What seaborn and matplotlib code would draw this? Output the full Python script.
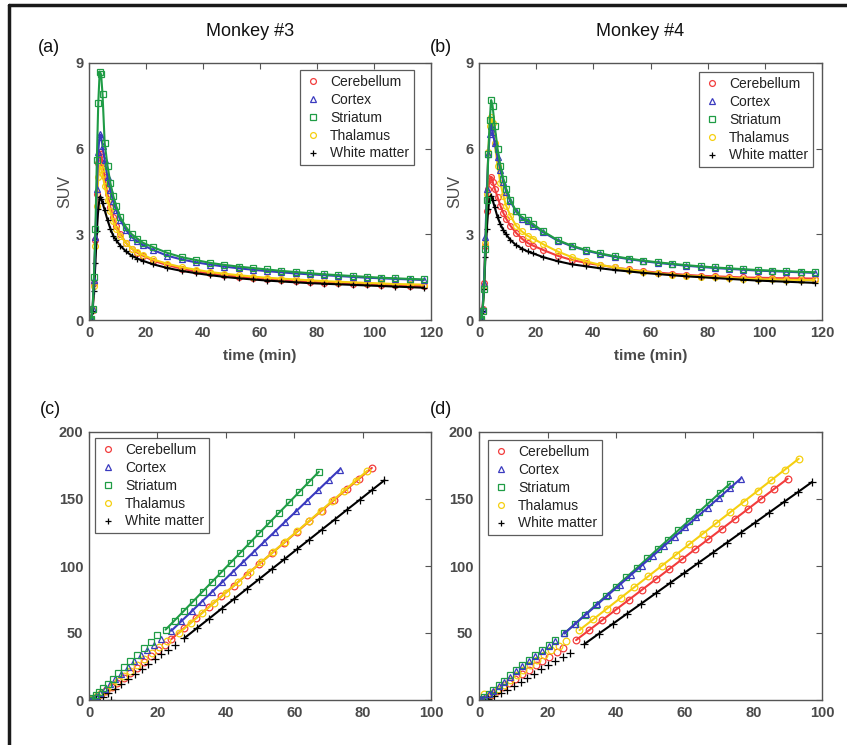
import numpy as np
import pandas as pd
import matplotlib
matplotlib.use("Agg")
import matplotlib.pyplot as plt
import seaborn as sns
from matplotlib.lines import Line2D

# ---------------- data ----------------
regions = ["Cerebellum", "Cortex", "Striatum", "Thalamus", "White matter"]

time_min = [0.25, 0.75, 1.25, 1.75, 2.25, 2.75, 3.25, 3.75, 4.25, 4.75, 5.5, 6.5, 7.5, 8.5, 9.5,
            11, 13, 15, 17, 19, 22.5, 27.5, 32.5, 37.5, 42.5, 47.5, 52.5, 57.5, 62.5, 67.5,
            72.5, 77.5, 82.5, 87.5, 92.5, 97.5, 102.5, 107.5, 112.5, 117.5]

# Monkey #3 SUV
a_cereb = [0, 0.05, 0.35, 1.3, 2.8, 4.4, 5.5, 5.9, 5.8, 5.5, 5.0, 4.4, 3.95, 3.6, 3.3,
           3.0, 2.7, 2.5, 2.35, 2.25, 2.08, 1.92, 1.8, 1.7, 1.63, 1.57, 1.52, 1.47, 1.43, 1.4,
           1.37, 1.34, 1.31, 1.29, 1.27, 1.25, 1.23, 1.22, 1.2, 1.19]
a_cortex = [0, 0.05, 0.4, 1.4, 2.9, 4.6, 5.9, 6.5, 6.4, 6.1, 5.6, 5.0, 4.55, 4.15, 3.85,
            3.5, 3.15, 2.9, 2.75, 2.62, 2.45, 2.25, 2.12, 2.02, 1.94, 1.87, 1.81, 1.76, 1.71, 1.67,
            1.63, 1.6, 1.57, 1.54, 1.51, 1.48, 1.46, 1.44, 1.42, 1.4]
a_striat = [0, 0.05, 0.4, 1.5, 3.2, 5.6, 7.6, 8.7, 8.6, 7.9, 6.2, 5.4, 4.8, 4.35, 4.0,
            3.6, 3.25, 3.0, 2.85, 2.7, 2.55, 2.35, 2.2, 2.1, 2.0, 1.93, 1.87, 1.82, 1.77, 1.72,
            1.68, 1.64, 1.6, 1.57, 1.54, 1.51, 1.48, 1.46, 1.44, 1.42]
a_thal = [0, 0.05, 0.35, 1.2, 2.6, 4.0, 5.0, 5.4, 5.3, 5.1, 4.7, 4.2, 3.8, 3.45, 3.2,
          2.95, 2.7, 2.5, 2.38, 2.28, 2.12, 1.97, 1.85, 1.76, 1.68, 1.62, 1.57, 1.52, 1.48, 1.45,
          1.42, 1.39, 1.36, 1.34, 1.32, 1.3, 1.28, 1.26, 1.25, 1.24]
a_wm = [0, 0.05, 0.3, 1.0, 2.0, 3.1, 3.9, 4.3, 4.25, 4.1, 3.85, 3.5, 3.2, 2.95, 2.8,
        2.6, 2.4, 2.25, 2.15, 2.07, 1.95, 1.82, 1.72, 1.64, 1.57, 1.51, 1.46, 1.42, 1.38, 1.35,
        1.32, 1.29, 1.27, 1.25, 1.23, 1.21, 1.19, 1.17, 1.15, 1.13]

# Monkey #4 SUV
b_cereb = [0, 0.05, 0.4, 1.3, 2.6, 3.8, 4.6, 4.95, 5.0, 4.85, 4.6, 4.3, 4.0, 3.75, 3.55,
           3.3, 3.05, 2.85, 2.7, 2.6, 2.45, 2.25, 2.1, 2.0, 1.92, 1.84, 1.77, 1.71, 1.66, 1.62,
           1.58, 1.55, 1.53, 1.51, 1.49, 1.48, 1.47, 1.46, 1.46, 1.45]
b_cortex = [0, 0.05, 0.4, 1.3, 2.9, 4.6, 5.8, 6.5, 6.8, 6.6, 6.2, 5.7, 5.25, 4.85, 4.5,
            4.15, 3.8, 3.55, 3.45, 3.3, 3.07, 2.78, 2.58, 2.43, 2.31, 2.21, 2.13, 2.06, 2.0, 1.95,
            1.9, 1.86, 1.82, 1.79, 1.76, 1.73, 1.71, 1.69, 1.67, 1.65]
b_striat = [0, 0.05, 0.3, 1.1, 2.5, 4.2, 5.8, 7.0, 7.7, 7.5, 6.8, 6.0, 5.4, 4.95, 4.6,
            4.2, 3.8, 3.6, 3.5, 3.35, 3.1, 2.8, 2.6, 2.45, 2.33, 2.23, 2.15, 2.08, 2.02, 1.97,
            1.92, 1.88, 1.84, 1.81, 1.78, 1.75, 1.73, 1.71, 1.69, 1.67]
b_thal = [0, 0.05, 0.35, 1.2, 2.7, 4.4, 5.9, 6.8, 7.1, 6.9, 6.2, 5.4, 4.8, 4.35, 4.0,
          3.65, 3.3, 3.1, 2.95, 2.85, 2.65, 2.4, 2.2, 2.05, 1.93, 1.84, 1.76, 1.69, 1.63, 1.58,
          1.55, 1.52, 1.49, 1.47, 1.45, 1.43, 1.42, 1.41, 1.4, 1.39]
b_wm = [0, 0.05, 0.3, 1.1, 2.2, 3.2, 3.9, 4.3, 4.35, 4.2, 3.95, 3.6, 3.35, 3.15, 3.0,
        2.8, 2.62, 2.5, 2.4, 2.33, 2.2, 2.06, 1.95, 1.88, 1.81, 1.75, 1.7, 1.65, 1.61, 1.57,
        1.53, 1.5, 1.47, 1.44, 1.41, 1.38, 1.36, 1.34, 1.32, 1.3]

FIT_START = 15  # first point used in the linear fit (Logan plots)

# Logan plot, Monkey #3
c_cereb_x = [0, 0.3, 1.1, 2.3, 3.6, 5.0, 6.6, 8.3, 10.1, 12.0, 14.0, 16.0, 18.1, 20.2, 22.2,
             24.1, 27.8, 31.4, 35.1, 38.7, 42.4, 46.1, 49.7, 53.4, 57.0, 60.7, 64.4, 68.0, 71.7, 75.3, 79.0, 82.7]
c_cereb_y = [0, 0.2, 0.9, 2.5, 4.5, 6.8, 9.6, 12.7, 16.2, 19.9, 24.0, 28.2, 32.6, 37.0, 41.4,
             45.5, 53.6, 61.4, 69.5, 77.3, 85.4, 93.5, 101.3, 109.4, 117.2, 125.3, 133.4, 141.2, 149.3, 157.1, 165.2, 173.2]
c_cortex_x = [0, 0.3, 1.0, 2.1, 3.3, 4.6, 6.1, 7.7, 9.5, 11.4, 13.3, 15.2, 17.1, 19.0, 21.0,
              24.1, 27.0, 30.0, 33.0, 36.0, 39.0, 42.0, 45.0, 48.1, 51.2, 54.3, 57.4, 60.5, 63.7, 66.9, 70.1, 73.3]
c_cortex_y = [0, 0.2, 1.1, 3.1, 5.5, 8.4, 11.8, 15.6, 19.7, 24.3, 28.9, 33.3, 37.4, 41.4, 45.3,
              51.7, 58.8, 66.1, 73.5, 80.8, 88.1, 95.5, 102.8, 110.4, 118.0, 125.6, 133.2, 140.7, 148.6, 156.4, 164.2, 172.0]
c_striat_x = [0, 0.3, 1.0, 2.0, 3.0, 4.2, 5.5, 7.0, 8.6, 10.3, 12.1, 14.0, 16.0, 18.0, 20.0,
              22.4, 25.0, 27.7, 30.4, 33.2, 35.9, 38.6, 41.4, 44.2, 47.0, 49.8, 52.7, 55.6, 58.5, 61.4, 64.3, 67.2]
c_striat_y = [0, 0.2, 1.2, 3.5, 5.8, 8.8, 12.2, 16.0, 20.0, 24.5, 29.0, 33.5, 38.5, 43.5, 48.2,
              52.5, 59.3, 66.4, 73.5, 80.9, 88.0, 95.1, 102.5, 109.8, 117.2, 124.6, 132.2, 139.8, 147.4, 155.1, 162.7, 170.3]
c_thal_x = [0, 0.3, 1.1, 2.3, 3.6, 5.1, 6.7, 8.4, 10.2, 12.1, 14.1, 16.2, 18.3, 20.5, 22.7,
            26.2, 29.7, 33.1, 36.6, 40.0, 43.5, 47.0, 50.4, 53.9, 57.3, 60.8, 64.2, 67.7, 71.1, 74.6, 78.0, 81.4]
c_thal_y = [0, 0.2, 1.0, 2.8, 5.0, 7.7, 10.8, 14.3, 18.0, 22.0, 26.3, 30.8, 35.2, 39.8, 44.0,
            49.7, 57.4, 64.9, 72.6, 80.1, 87.8, 95.5, 102.9, 110.6, 118.1, 125.8, 133.3, 141.0, 148.5, 156.2, 163.7, 171.1]
c_wm_x = [0, 6.3, 2.0, 4.0, 5.5, 7.5, 9.5, 11.5, 13.5, 15.4, 17.3, 19.2, 21.1, 23.0, 25.0,
          27.8, 31.5, 35.1, 38.8, 42.5, 46.1, 49.8, 53.5, 57.1, 60.8, 64.4, 68.1, 71.8, 75.4, 79.1, 82.7, 86.4]
c_wm_y = [0, 0.0, 0.5, 2.5, 5.0, 8.5, 12.0, 15.8, 19.6, 23.3, 27.0, 30.6, 34.0, 37.5, 41.0,
          46.0, 53.5, 60.7, 68.2, 75.6, 82.9, 90.3, 97.8, 105.0, 112.5, 119.7, 127.2, 134.6, 141.9, 149.3, 156.6, 164.0]

# Logan plot, Monkey #4
d_cereb_x = [0, 0.6, 2.0, 3.6, 5.3, 7.0, 8.8, 10.6, 12.5, 14.5, 16.5, 18.5, 20.5, 22.6, 24.6,
             28.3, 32.2, 36.0, 39.9, 43.7, 47.6, 51.5, 55.3, 59.2, 63.0, 66.9, 70.7, 74.6, 78.4, 82.3, 86.1, 90.0]
d_cereb_y = [0, 0.3, 1.5, 3.8, 6.5, 9.5, 12.7, 15.9, 19.2, 22.6, 26.0, 29.2, 32.3, 35.5, 38.6,
             44.7, 52.3, 59.7, 67.4, 74.8, 82.4, 90.0, 97.4, 105.0, 112.5, 120.1, 127.5, 135.1, 142.5, 150.2, 157.6, 165.2]
d_cortex_x = [0, 0.5, 1.5, 2.8, 4.2, 5.7, 7.3, 9.0, 10.8, 12.6, 14.5, 16.4, 18.3, 20.3, 22.2,
              24.9, 28.1, 31.3, 34.5, 37.7, 41.0, 44.2, 47.4, 50.6, 53.8, 57.0, 60.2, 63.4, 66.7, 69.9, 73.1, 76.3]
d_cortex_y = [0, 0.4, 1.8, 4.2, 7.0, 10.3, 13.8, 17.5, 21.3, 25.2, 29.0, 32.7, 36.5, 40.2, 43.8,
              49.7, 56.9, 64.1, 71.3, 78.5, 85.9, 93.1, 100.3, 107.4, 114.6, 121.8, 129.0, 136.2, 143.6, 150.8, 158.0, 165.2]
d_striat_x = [0, 0.5, 1.5, 2.8, 4.2, 5.7, 7.3, 9.0, 10.8, 12.6, 14.5, 16.4, 18.3, 20.3, 22.2,
              24.9, 27.9, 30.9, 34.0, 37.0, 40.0, 43.0, 46.0, 49.1, 52.1, 55.1, 58.1, 61.1, 64.1, 67.2, 70.2, 73.2]
d_striat_y = [0, 0.5, 2.0, 4.5, 7.5, 11.0, 14.5, 18.3, 22.2, 26.3, 30.0, 33.8, 37.5, 41.2, 44.7,
              49.7, 56.6, 63.6, 70.8, 77.7, 84.7, 91.6, 98.5, 105.7, 112.7, 119.6, 126.6, 133.5, 140.4, 147.6, 154.6, 161.5]
d_thal_x = [0, 1.5, 2.5, 4.0, 5.6, 7.3, 9.1, 11.0, 12.9, 14.9, 16.9, 18.9, 21.0, 23.2, 25.4,
            29.3, 33.3, 37.3, 41.3, 45.3, 49.3, 53.3, 57.3, 61.3, 65.2, 69.2, 73.2, 77.2, 81.2, 85.2, 89.2, 93.2]
d_thal_y = [0, 4.3, 2.5, 5.0, 8.0, 11.4, 15.0, 18.7, 22.5, 26.4, 30.0, 33.6, 37.0, 40.5, 44.2,
            52.2, 60.2, 68.2, 76.2, 84.2, 92.2, 100.2, 108.2, 116.2, 124.0, 132.0, 140.0, 148.0, 156.0, 164.0, 172.0, 180.0]
d_wm_x = [0, 1.0, 2.6, 4.4, 6.3, 8.2, 10.1, 12.1, 14.1, 16.1, 18.1, 20.2, 22.3, 24.4, 26.6,
          30.7, 34.9, 39.0, 43.2, 47.3, 51.5, 55.6, 59.8, 63.9, 68.1, 72.2, 76.3, 80.5, 84.6, 88.8, 92.9, 97.1]
d_wm_y = [0, 0.2, 1.0, 2.8, 5.1, 7.8, 10.6, 13.6, 16.6, 19.7, 22.8, 25.9, 29.0, 32.0, 35.2,
          41.7, 49.4, 56.8, 64.5, 71.9, 79.6, 87.1, 94.7, 102.2, 109.8, 117.3, 124.8, 132.4, 139.9, 147.6, 155.0, 162.7]

tac_xticks = [0, 20, 40, 60, 80, 100, 120]
tac_yticks = [0, 3, 6, 9]
logan_xticks = [0, 20, 40, 60, 80, 100]
logan_yticks = [0, 50, 100, 150, 200]

# ---------------- style ----------------
sns.set_theme(style="white")
plt.rcParams["font.family"] = ["Liberation Sans", "DejaVu Sans"]

colors = {"Cerebellum": "#f23c3c", "Cortex": "#3a3abf", "Striatum": "#1f9c45",
          "Thalamus": "#f5cf10", "White matter": "#000000"}
markers = {"Cerebellum": "o", "Cortex": "^", "Striatum": "s", "Thalamus": "o", "White matter": "+"}
msize = {"Cerebellum": 4.2, "Cortex": 4.2, "Striatum": 3.8, "Thalamus": 4.2, "White matter": 5.0}
AX_COLOR = "#555555"
LABEL_COLOR = "#4a4a4a"

W, H = 847, 745
fig = plt.figure(figsize=(W / 100, H / 100), dpi=100)


def add_axes(l, t, r, b):
    return fig.add_axes([l / W, 1 - b / H, (r - l) / W, (b - t) / H])


ax_a = add_axes(89, 63, 431, 320)
ax_b = add_axes(479, 63, 822, 320)
ax_c = add_axes(89, 432, 431, 700)
ax_d = add_axes(479, 432, 822, 700)


def style_axes(ax, xlim, ylim, xticks, yticks):
    ax.set_xlim(*xlim)
    ax.set_ylim(*ylim)
    ax.set_xticks(xticks)
    ax.set_yticks(yticks)
    for s in ax.spines.values():
        s.set_visible(True)
        s.set_color(AX_COLOR)
        s.set_linewidth(1.0)
    ax.tick_params(direction="in", top=True, right=True, length=4, width=0.8,
                   color=AX_COLOR, labelcolor=LABEL_COLOR, labelsize=10.5, pad=4)
    for lab in ax.get_xticklabels() + ax.get_yticklabels():
        lab.set_fontweight("bold")
    ax.grid(False)


def add_legend(ax, anchor, loc):
    handles = [Line2D([], [], linestyle="none", marker=markers[r], color=colors[r],
                      markerfacecolor="none", markeredgecolor=colors[r],
                      markersize=msize[r], markeredgewidth=0.9) for r in regions]
    leg = ax.legend(handles, regions, loc=loc, bbox_to_anchor=anchor, borderaxespad=0,
                    frameon=True, fancybox=False, fontsize=10, handlelength=1.2,
                    handletextpad=0.6, labelspacing=0.28, borderpad=0.35)
    leg.get_frame().set_edgecolor("#333333")
    leg.get_frame().set_linewidth(0.9)
    for txt in leg.get_texts():
        txt.set_color("#222222")


def draw_tac(ax, series):
    for name, vals in series:
        df = pd.DataFrame({"t": time_min, "suv": vals})
        sns.lineplot(data=df, x="t", y="suv", ax=ax, color=colors[name], linewidth=1.5,
                     sort=False, estimator=None, legend=False)
        sns.lineplot(data=df, x="t", y="suv", ax=ax, color=colors[name], linestyle="none",
                     marker=markers[name], markerfacecolor="none", markeredgecolor=colors[name],
                     markersize=msize[name], markeredgewidth=0.9, sort=False, estimator=None,
                     legend=False)
    ax.set_xlabel("time (min)", fontsize=11, color=LABEL_COLOR, fontweight="bold", labelpad=7)
    ax.set_ylabel("SUV", fontsize=11.5, color=LABEL_COLOR, labelpad=2)


def draw_logan(ax, series):
    for name, xs, ys in series:
        df = pd.DataFrame({"x": xs, "y": ys})
        fit = df.iloc[FIT_START:]
        sns.lineplot(data=fit, x="x", y="y", ax=ax, color=colors[name], linewidth=1.5,
                     sort=False, estimator=None, legend=False)
        sns.lineplot(data=df, x="x", y="y", ax=ax, color=colors[name], linestyle="none",
                     marker=markers[name], markerfacecolor="none", markeredgecolor=colors[name],
                     markersize=msize[name] + 0.6, markeredgewidth=0.9, sort=False,
                     estimator=None, legend=False)
    ax.set_xlabel("")
    ax.set_ylabel("")


draw_tac(ax_a, [("Cerebellum", a_cereb), ("Thalamus", a_thal), ("White matter", a_wm),
                ("Cortex", a_cortex), ("Striatum", a_striat)])
draw_tac(ax_b, [("Cerebellum", b_cereb), ("Thalamus", b_thal), ("White matter", b_wm),
                ("Cortex", b_cortex), ("Striatum", b_striat)])
draw_logan(ax_c, [("Cerebellum", c_cereb_x, c_cereb_y), ("Thalamus", c_thal_x, c_thal_y),
                  ("White matter", c_wm_x, c_wm_y), ("Cortex", c_cortex_x, c_cortex_y),
                  ("Striatum", c_striat_x, c_striat_y)])
draw_logan(ax_d, [("Cerebellum", d_cereb_x, d_cereb_y), ("Thalamus", d_thal_x, d_thal_y),
                  ("White matter", d_wm_x, d_wm_y), ("Striatum", d_striat_x, d_striat_y),
                  ("Cortex", d_cortex_x, d_cortex_y)])

for ax in (ax_a, ax_b):
    style_axes(ax, (0, 120), (0, 9), tac_xticks, tac_yticks)
for ax in (ax_c, ax_d):
    style_axes(ax, (0, 100), (0, 200), logan_xticks, logan_yticks)

add_legend(ax_a, (1 - 17 / 342, 1 - 7 / 257), "upper right")
add_legend(ax_b, (1 - 9 / 343, 1 - 9 / 257), "upper right")
add_legend(ax_c, (6 / 342, 1 - 6 / 268), "upper left")
add_legend(ax_d, (9 / 343, 1 - 8 / 268), "upper left")

# panel letters and titles
fig.text(38 / W, 1 - 48 / H, "(a)", fontsize=13, va="center", ha="left", color="#111111")
fig.text(430 / W, 1 - 48 / H, "(b)", fontsize=13, va="center", ha="left", color="#111111")
fig.text(40 / W, 1 - 409 / H, "(c)", fontsize=13, va="center", ha="left", color="#111111")
fig.text(430 / W, 1 - 409 / H, "(d)", fontsize=13, va="center", ha="left", color="#111111")
fig.text(250 / W, 1 - 31 / H, "Monkey #3", fontsize=13, va="center", ha="center", color="#111111")
fig.text(640 / W, 1 - 31 / H, "Monkey #4", fontsize=13, va="center", ha="center", color="#111111")

# outer frame (top and left edges of the cropped figure)
fig.add_artist(Line2D([8.5 / W, 1], [1 - 4.5 / H, 1 - 4.5 / H], transform=fig.transFigure,
                      color="#1a1a1a", linewidth=2.5))
fig.add_artist(Line2D([8.5 / W, 8.5 / W], [0, 1 - 4.5 / H], transform=fig.transFigure,
                      color="#1a1a1a", linewidth=2.5))

fig.savefig("out.png", dpi=100, facecolor="white")
